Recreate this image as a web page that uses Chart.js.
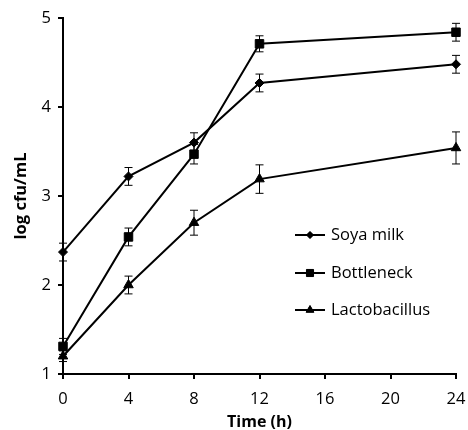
<!DOCTYPE html>
<html>
<head>
<meta charset="utf-8">
<script src="https://cdn.jsdelivr.net/npm/chart.js@4/dist/chart.umd.min.js"></script>
<style>
  html, body { margin: 0; padding: 0; background: #fff; }
  #wrap { width: 468px; height: 430px; position: relative; }
</style>
</head>
<body>
<div id="wrap"><canvas id="c"></canvas></div>
<script>
// ---- data ----
const timeHours = [0, 4, 8, 12, 24];
const seriesNames = ['Soya milk', 'Bottleneck', 'Lactobacillus'];
const soyaMilk = [2.37, 3.22, 3.60, 4.27, 4.48];
const soyaMilkErr = [0.10, 0.10, 0.11, 0.10, 0.10];
const bottleneck = [1.31, 2.54, 3.47, 4.71, 4.84];
const bottleneckErr = [0.09, 0.10, 0.11, 0.09, 0.10];
const lactobacillus = [1.20, 2.00, 2.70, 3.19, 3.54];
const lactobacillusErr = [0.06, 0.10, 0.14, 0.16, 0.18];
const xTicks = [0, 4, 8, 12, 16, 20, 24];
const yTicks = [1, 2, 3, 4, 5];

const FONT = '"Open Sans", "DejaVu Sans", sans-serif';
const styles = ['rectRot', 'rect', 'triangle'];
const radii = [4.5, 6, 5.5];
const legendRadii = [3.5, 5, 4.5];

function mk(name, vals, errs, i) {
  return {
    label: name,
    data: timeHours.map((t, k) => ({ x: t, y: vals[k] })),
    errors: errs,
    borderColor: '#000',
    backgroundColor: '#000',
    borderWidth: 2,
    pointStyle: styles[i],
    pointRadius: radii[i],
    pointBorderWidth: 1,
    pointBackgroundColor: '#000',
    pointBorderColor: '#000',
    tension: 0,
    clip: false
  };
}

const errorBars = {
  id: 'errorBars',
  afterDatasetsDraw(chart) {
    const ctx = chart.ctx, xs = chart.scales.x, ys = chart.scales.y;
    ctx.save();
    ctx.strokeStyle = '#000';
    ctx.lineWidth = 1;
    chart.data.datasets.forEach(ds => {
      ds.data.forEach((p, k) => {
        const e = ds.errors[k];
        const px = xs.getPixelForValue(p.x);
        const top = ys.getPixelForValue(p.y + e);
        const bot = ys.getPixelForValue(p.y - e);
        ctx.beginPath();
        ctx.moveTo(px, top); ctx.lineTo(px, bot);
        ctx.moveTo(px - 4, top); ctx.lineTo(px + 4, top);
        ctx.moveTo(px - 4, bot); ctx.lineTo(px + 4, bot);
        ctx.stroke();
      });
    });
    ctx.restore();
  }
};

const insideLegend = {
  id: 'insideLegend',
  afterDraw(chart) {
    const ctx = chart.ctx, a = chart.chartArea;
    const x0 = a.left + 232, x1 = a.left + 262, tx = a.left + 268;
    const rowY = [a.top + 217, a.top + 255, a.top + 292];
    ctx.save();
    chart.data.datasets.forEach((ds, i) => {
      const y = rowY[i];
      ctx.strokeStyle = '#000';
      ctx.lineWidth = 2;
      ctx.beginPath(); ctx.moveTo(x0, y); ctx.lineTo(x1, y); ctx.stroke();
      ctx.fillStyle = '#000';
      ctx.lineWidth = 1;
      Chart.helpers.drawPoint(ctx, { pointStyle: ds.pointStyle, radius: legendRadii[i], borderWidth: 1, rotation: 0 }, (x0 + x1) / 2, y);
      ctx.fill();
      ctx.fillStyle = '#000';
      ctx.font = '16.5px ' + FONT;
      ctx.textAlign = 'left';
      ctx.textBaseline = 'middle';
      ctx.fillText(ds.label, tx, y);
    });
    ctx.restore();
  }
};

new Chart(document.getElementById('c'), {
  type: 'line',
  data: {
    datasets: [
      mk(seriesNames[0], soyaMilk, soyaMilkErr, 0),
      mk(seriesNames[1], bottleneck, bottleneckErr, 1),
      mk(seriesNames[2], lactobacillus, lactobacillusErr, 2)
    ]
  },
  options: {
    responsive: true,
    maintainAspectRatio: false,
    animation: false,
    layout: { padding: { top: 18, right: 12, left: 0, bottom: 0 } },
    plugins: { legend: { display: false }, tooltip: { enabled: false } },
    scales: {
      x: {
        type: 'linear',
        min: 0, max: 24,
        afterBuildTicks(s) { s.ticks = xTicks.map(v => ({ value: v })); },
        afterFit(s) { s.height = 56; s.paddingLeft = 0; s.paddingRight = 0; },
        grid: { display: true, drawOnChartArea: false, drawTicks: true, tickLength: 5, color: '#000', lineWidth: 2 },
        border: { display: true, color: '#000', width: 2 },
        ticks: { color: '#000', font: { family: FONT, size: 16.5 }, padding: 10, maxRotation: 0, autoSkip: false },
        title: { display: true, text: 'Time (h)', color: '#000', font: { family: FONT, size: 16, weight: 'bold', lineHeight: 1 }, padding: { top: 0, bottom: 0 } }
      },
      y: {
        type: 'linear',
        min: 1, max: 5,
        afterBuildTicks(s) { s.ticks = yTicks.map(v => ({ value: v })); },
        afterFit(s) { s.width = 63; s.paddingTop = 0; s.paddingBottom = 0; },
        grid: { display: true, drawOnChartArea: false, drawTicks: true, tickLength: 5, color: '#000', lineWidth: 2 },
        border: { display: true, color: '#000', width: 2 },
        ticks: { color: '#000', font: { family: FONT, size: 16.5 }, padding: 7 },
        title: { display: true, text: 'log cfu/mL', color: '#000', font: { family: FONT, size: 16.5, weight: 'bold', lineHeight: 1.2 }, padding: { top: 11, bottom: 0 } }
      }
    }
  },
  plugins: [errorBars, insideLegend]
});
</script>
</body>
</html>
